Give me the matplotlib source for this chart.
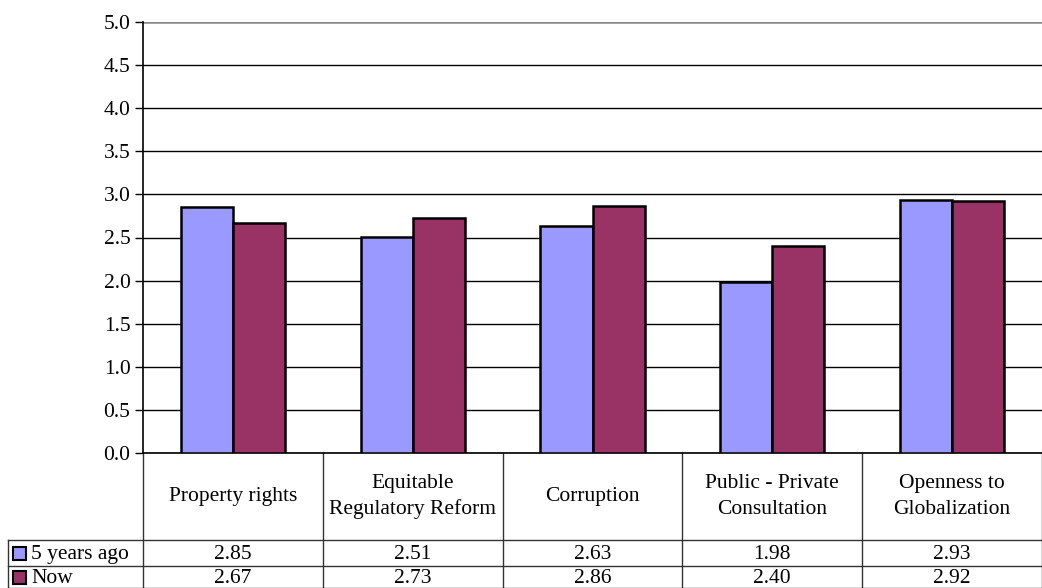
import matplotlib.pyplot as plt
import numpy as np
from matplotlib.patches import Rectangle

# data
categories = ["Property rights", "Equitable\nRegulatory Reform", "Corruption",
              "Public - Private\nConsultation", "Openness to\nGlobalization"]
series_names = ["5 years ago", "Now"]
five_years_ago = [2.85, 2.51, 2.63, 1.98, 2.93]
now = [2.67, 2.73, 2.86, 2.40, 2.92]
colors = ["#9999FF", "#993366"]

plt.rcParams['font.family'] = ['Liberation Serif', 'DejaVu Serif']
fs = 15.5

W, H = 1042, 588
fig = plt.figure(figsize=(W / 100, H / 100), dpi=100)
left, right, top, bottom = 143, 1042, 22, 453
ax = fig.add_axes([left / W, 1 - bottom / H, (right - left) / W, (bottom - top) / H])

x = np.arange(len(categories))
bw = 0.29
ax.bar(x - bw / 2, five_years_ago, bw, color=colors[0], edgecolor="black", linewidth=1.8, zorder=3)
ax.bar(x + bw / 2, now, bw, color=colors[1], edgecolor="black", linewidth=1.8, zorder=3)

ax.set_xlim(-0.5, len(categories) - 0.5)
ax.set_ylim(0, 5)
ax.set_yticks(np.arange(0, 5.01, 0.5))
ax.set_yticklabels(["%.1f" % v for v in np.arange(0, 5.01, 0.5)], fontsize=fs)
ax.set_xticks([])
ax.yaxis.grid(True, color="black", linewidth=1)
ax.set_axisbelow(True)
ax.tick_params(axis="y", length=6, width=1, pad=3)
for s in ["top", "right"]:
    ax.spines[s].set_visible(False)
ax.spines["left"].set_linewidth(1.2)
ax.spines["bottom"].set_linewidth(1.2)
ax.get_ygridlines()[-1].set_color("#888888")
ax.get_ygridlines()[-1].set_linewidth(1.8)

# data table below the axes
tr = ax.get_xaxis_transform()
ph = bottom - top
def yfr(py):
    return -(py - bottom) / ph
y_hdr, y_r1, y_r2 = yfr(540), yfr(566), yfr(588)
x_lab = -0.5 - (left - 8) / ((right - left) / len(categories))
lw = 1.0
tc = "#333333"
for k in range(len(categories) + 1):
    ax.plot([k - 0.5, k - 0.5], [0, y_r2], transform=tr, color=tc, lw=lw, clip_on=False)
for yy in [y_hdr, y_r1, y_r2]:
    ax.plot([x_lab, len(categories) - 0.5], [yy, yy], transform=tr, color=tc, lw=lw, clip_on=False)
ax.plot([x_lab, x_lab], [y_hdr, y_r2], transform=tr, color=tc, lw=lw, clip_on=False)

dy = 1.5 / ph
for i, c in enumerate(categories):
    ax.text(i, (0 + y_hdr) / 2, c, transform=tr, ha="center", va="center",
            fontsize=fs, linespacing=1.45)
    ax.text(i, (y_hdr + y_r1) / 2 - dy, "%.2f" % five_years_ago[i], transform=tr,
            ha="center", va="center", fontsize=fs)
    ax.text(i, (y_r1 + y_r2) / 2 - dy, "%.2f" % now[i], transform=tr,
            ha="center", va="center", fontsize=fs)

# legend keys in the row labels
for j, (name, yy0, yy1) in enumerate([(series_names[0], y_hdr, y_r1), (series_names[1], y_r1, y_r2)]):
    cy = bottom - (yy0 + yy1) / 2 * ph
    fig.patches.append(Rectangle((13 / W, 1 - (cy + 6.5) / H), 13 / W, 13 / H,
                                 transform=fig.transFigure,
                                 facecolor=colors[j], edgecolor="black", linewidth=1.5))
    ax.text(x_lab + 23 / ((right - left) / len(categories)), (yy0 + yy1) / 2 - dy, name,
            transform=tr, ha="left", va="center", fontsize=fs)

fig.savefig("out.png", dpi=100)
